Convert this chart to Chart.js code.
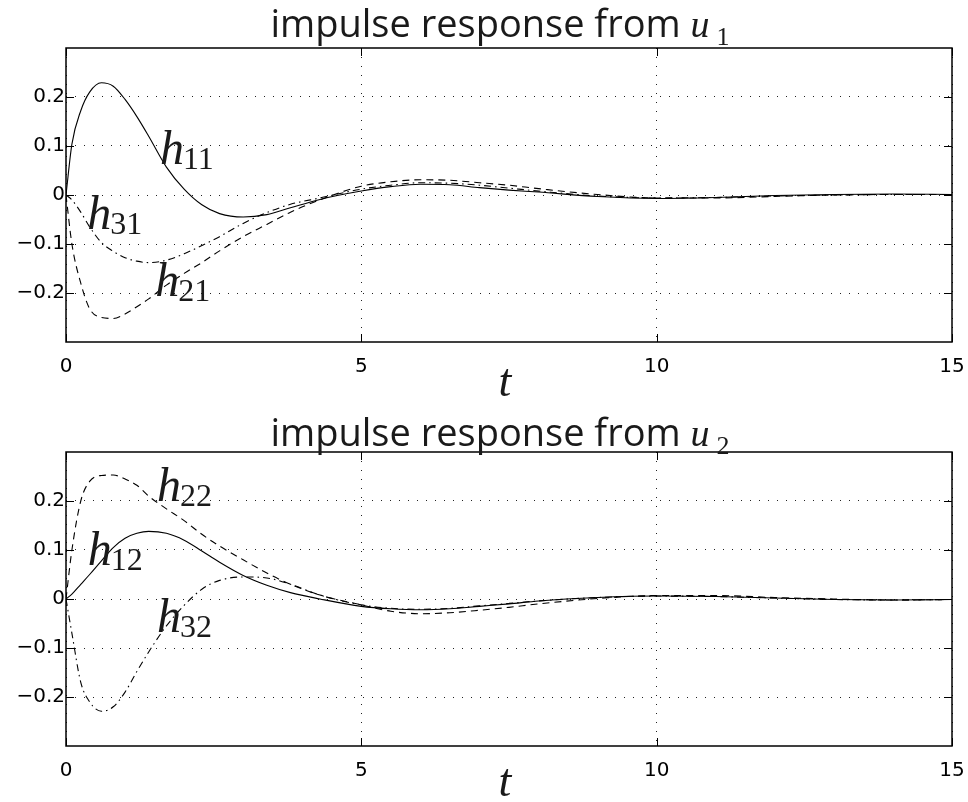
<!DOCTYPE html>
<html><head><meta charset="utf-8">
<script src="https://cdn.jsdelivr.net/npm/chart.js@4/dist/chart.umd.min.js"></script>
<style>
html,body{margin:0;padding:0;background:#fff;}
#wrap{position:relative;width:968px;height:802px;overflow:hidden;}
canvas{position:absolute;left:0;}
</style></head><body>
<div id="wrap">
<canvas id="c1" width="968" height="400" style="top:0"></canvas>
<canvas id="c2" width="968" height="402" style="top:400px"></canvas>
</div>
<script>
// time samples (s)
const t    = [0, 0.1, 0.25, 0.4, 0.6, 0.8, 1.0, 1.2, 1.4, 1.7, 2.0, 2.3, 2.6, 3.0, 3.4, 3.8, 4.3, 5, 5.5, 6, 6.5, 7, 7.5, 8, 9, 10, 11, 12, 13, 14, 15];
// impulse responses from u1
const h11  = [0, 0.104, 0.172, 0.21, 0.229, 0.222, 0.195, 0.16, 0.12, 0.057, 0.012, -0.02, -0.038, -0.045, -0.04, -0.026, -0.009, 0.008, 0.017, 0.022, 0.021, 0.015, 0.01, 0.006, -0.003, -0.007, -0.005, -0.001, 0.001, 0.002, 0.001];
const h21  = [0, -0.1, -0.18, -0.232, -0.25, -0.252, -0.243, -0.228, -0.212, -0.184, -0.16, -0.138, -0.114, -0.085, -0.06, -0.035, -0.01, 0.018, 0.027, 0.031, 0.03, 0.025, 0.02, 0.013, 0.001, -0.006, -0.006, -0.003, 0, 0.001, 0.001];
const h31  = [0, -0.01, -0.035, -0.065, -0.097, -0.115, -0.128, -0.135, -0.138, -0.133, -0.12, -0.103, -0.085, -0.058, -0.036, -0.019, -0.006, 0.012, 0.02, 0.025, 0.024, 0.02, 0.014, 0.008, -0.002, -0.006, -0.005, -0.002, 0, 0.001, 0.001];
// impulse responses from u2
const h12  = [0, 0.01, 0.03, 0.05, 0.078, 0.105, 0.124, 0.134, 0.138, 0.134, 0.12, 0.098, 0.075, 0.048, 0.028, 0.013, 0.0, -0.015, -0.02, -0.022, -0.02, -0.015, -0.01, -0.004, 0.003, 0.006, 0.005, 0.002, -0.001, -0.002, -0.001];
const h22  = [0, 0.1, 0.2, 0.24, 0.252, 0.253, 0.245, 0.232, 0.21, 0.184, 0.16, 0.132, 0.108, 0.08, 0.053, 0.03, 0.008, -0.012, -0.025, -0.03, -0.028, -0.023, -0.017, -0.01, 0.001, 0.007, 0.007, 0.003, 0, -0.002, -0.001];
const h32  = [0, -0.07, -0.17, -0.21, -0.229, -0.22, -0.19, -0.148, -0.108, -0.055, -0.013, 0.02, 0.038, 0.045, 0.043, 0.03, 0.008, -0.012, -0.019, -0.021, -0.019, -0.014, -0.009, -0.004, 0.003, 0.006, 0.005, 0.002, -0.001, -0.002, -0.001];

const xTicks = [0, 5, 10, 15];
const yTicks = [-0.2, -0.1, 0, 0.1, 0.2];
const yTickLabels = ['\u22120.2', '\u22120.1', '0', '0.1', '0.2'];
const titleText = 'impulse response from ';
const inputNames = ['u', 'u'];
const inputSubs = ['1', '2'];
const xLabel = 't';
const curveNames1 = ['11', '31', '21'];
const curveNames2 = ['22', '12', '32'];

// label anchors in data coordinates (layout, not data)
const labelAt1 = [[1.59, 0.063], [0.36, -0.069], [1.51, -0.206]];
const labelAt2 = [[1.54, 0.2], [0.37, 0.069], [1.54, -0.067]];

const SOLID = [], DASH = [7, 5], DASHDOT = [7, 4, 1.5, 4];

const decor = {
  id: 'decor',
  afterDraw(chart, args, o) {
    const ctx = chart.ctx, a = chart.chartArea;
    const xs = chart.scales.x, ys = chart.scales.y;
    ctx.save();
    // frame
    ctx.strokeStyle = '#000'; ctx.lineWidth = 1.5; ctx.setLineDash([]);
    ctx.strokeRect(a.left, a.top, a.right - a.left, a.bottom - a.top);
    ctx.lineWidth = 1;
    ctx.beginPath();
    xTicks.forEach(v => { const p = Math.round(xs.getPixelForValue(v)) + 0.5;
      ctx.moveTo(p, a.bottom); ctx.lineTo(p, a.bottom - 8);
      ctx.moveTo(p, a.top); ctx.lineTo(p, a.top + 8); });
    yTicks.forEach(v => { const p = Math.round(ys.getPixelForValue(v)) + 0.5;
      ctx.moveTo(a.left, p); ctx.lineTo(a.left + 8, p);
      ctx.moveTo(a.right, p); ctx.lineTo(a.right - 8, p); });
    ctx.stroke();
    ctx.fillStyle = '#1a1a1a';
    // title
    ctx.textBaseline = 'alphabetic'; ctx.textAlign = 'left';
    const fMain = '38px "Open Sans"', fU = 'italic 38px "Liberation Serif"', fS = '26px "Liberation Serif"';
    ctx.font = fMain; const w1 = ctx.measureText(titleText).width;
    ctx.font = fU; const w2 = ctx.measureText(o.uName).width;
    ctx.font = fS; const w3 = ctx.measureText(o.uSub).width;
    const x0 = 500 - (w1 + w2 + 7 + w3) / 2;
    ctx.font = fMain; ctx.fillText(titleText, x0, o.titleY);
    ctx.font = fU; ctx.fillText(o.uName, x0 + w1, o.titleY);
    ctx.font = fS; ctx.fillText(o.uSub, x0 + w1 + w2 + 7, o.titleY + 8);
    // x label
    ctx.font = 'italic 46px "Liberation Serif"'; ctx.textAlign = 'center';
    ctx.fillText(xLabel, 505, o.xLabelY);
    // curve labels
    ctx.textAlign = 'left';
    o.names.forEach((n, i) => {
      const px = xs.getPixelForValue(o.at[i][0]), py = ys.getPixelForValue(o.at[i][1]);
      ctx.font = 'italic 48px "Liberation Serif"';
      const wh = ctx.measureText('h').width;
      ctx.fillText('h', px, py);
      ctx.font = '32px "Liberation Serif"';
      ctx.fillText(n, px + wh - 1, py + 5);
    });
    ctx.restore();
  }
};

function ds(values, dash) {
  return { data: t.map((x, i) => ({ x, y: values[i] })), borderColor: '#000', borderWidth: 1.1,
    borderDash: dash, pointRadius: 0, fill: false, cubicInterpolationMode: 'monotone' };
}

function make(id, series, padTop, padBottom, decoOpts) {
  return new Chart(document.getElementById(id), {
    type: 'line',
    data: { datasets: series },
    options: {
      responsive: false, animation: false, events: [],
      layout: { padding: { left: 6, right: 16, top: padTop, bottom: padBottom } },
      plugins: { legend: { display: false }, tooltip: { enabled: false }, decor: decoOpts },
      scales: {
        x: {
          type: 'linear', min: 0, max: 15,
          afterBuildTicks: s => { s.ticks = xTicks.map(v => ({ value: v })); },
          afterFit: s => { s.height = 40; s.paddingLeft = 0; s.paddingRight = 0; },
          ticks: { callback: v => String(v), color: '#000', font: { family: 'DejaVu Sans', size: 20 }, padding: 13, maxRotation: 0, autoSkip: false },
          grid: { color: '#222', lineWidth: 1, drawTicks: false },
          border: { display: false, dash: [1, 8] }
        },
        y: {
          type: 'linear', min: -0.3, max: 0.3,
          afterBuildTicks: s => { s.ticks = yTicks.map(v => ({ value: v })); },
          afterFit: s => { s.width = 60; s.paddingTop = 0; s.paddingBottom = 0; },
          ticks: { callback: (v, i) => yTickLabels[i], color: '#000', font: { family: 'DejaVu Sans', size: 20 }, padding: 1 },
          grid: { color: '#222', lineWidth: 1, drawTicks: false },
          border: { display: false, dash: [1, 8] }
        }
      }
    },
    plugins: [decor]
  });
}

make('c1', [ds(h11, SOLID), ds(h21, DASH), ds(h31, DASHDOT)], 48, 18,
  { uName: inputNames[0], uSub: inputSubs[0], titleY: 37, xLabelY: 396, names: curveNames1, at: labelAt1 });
make('c2', [ds(h12, SOLID), ds(h22, DASH), ds(h32, DASHDOT)], 52, 16,
  { uName: inputNames[1], uSub: inputSubs[1], titleY: 46, xLabelY: 396, names: curveNames2, at: labelAt2 });
</script>
</body></html>
